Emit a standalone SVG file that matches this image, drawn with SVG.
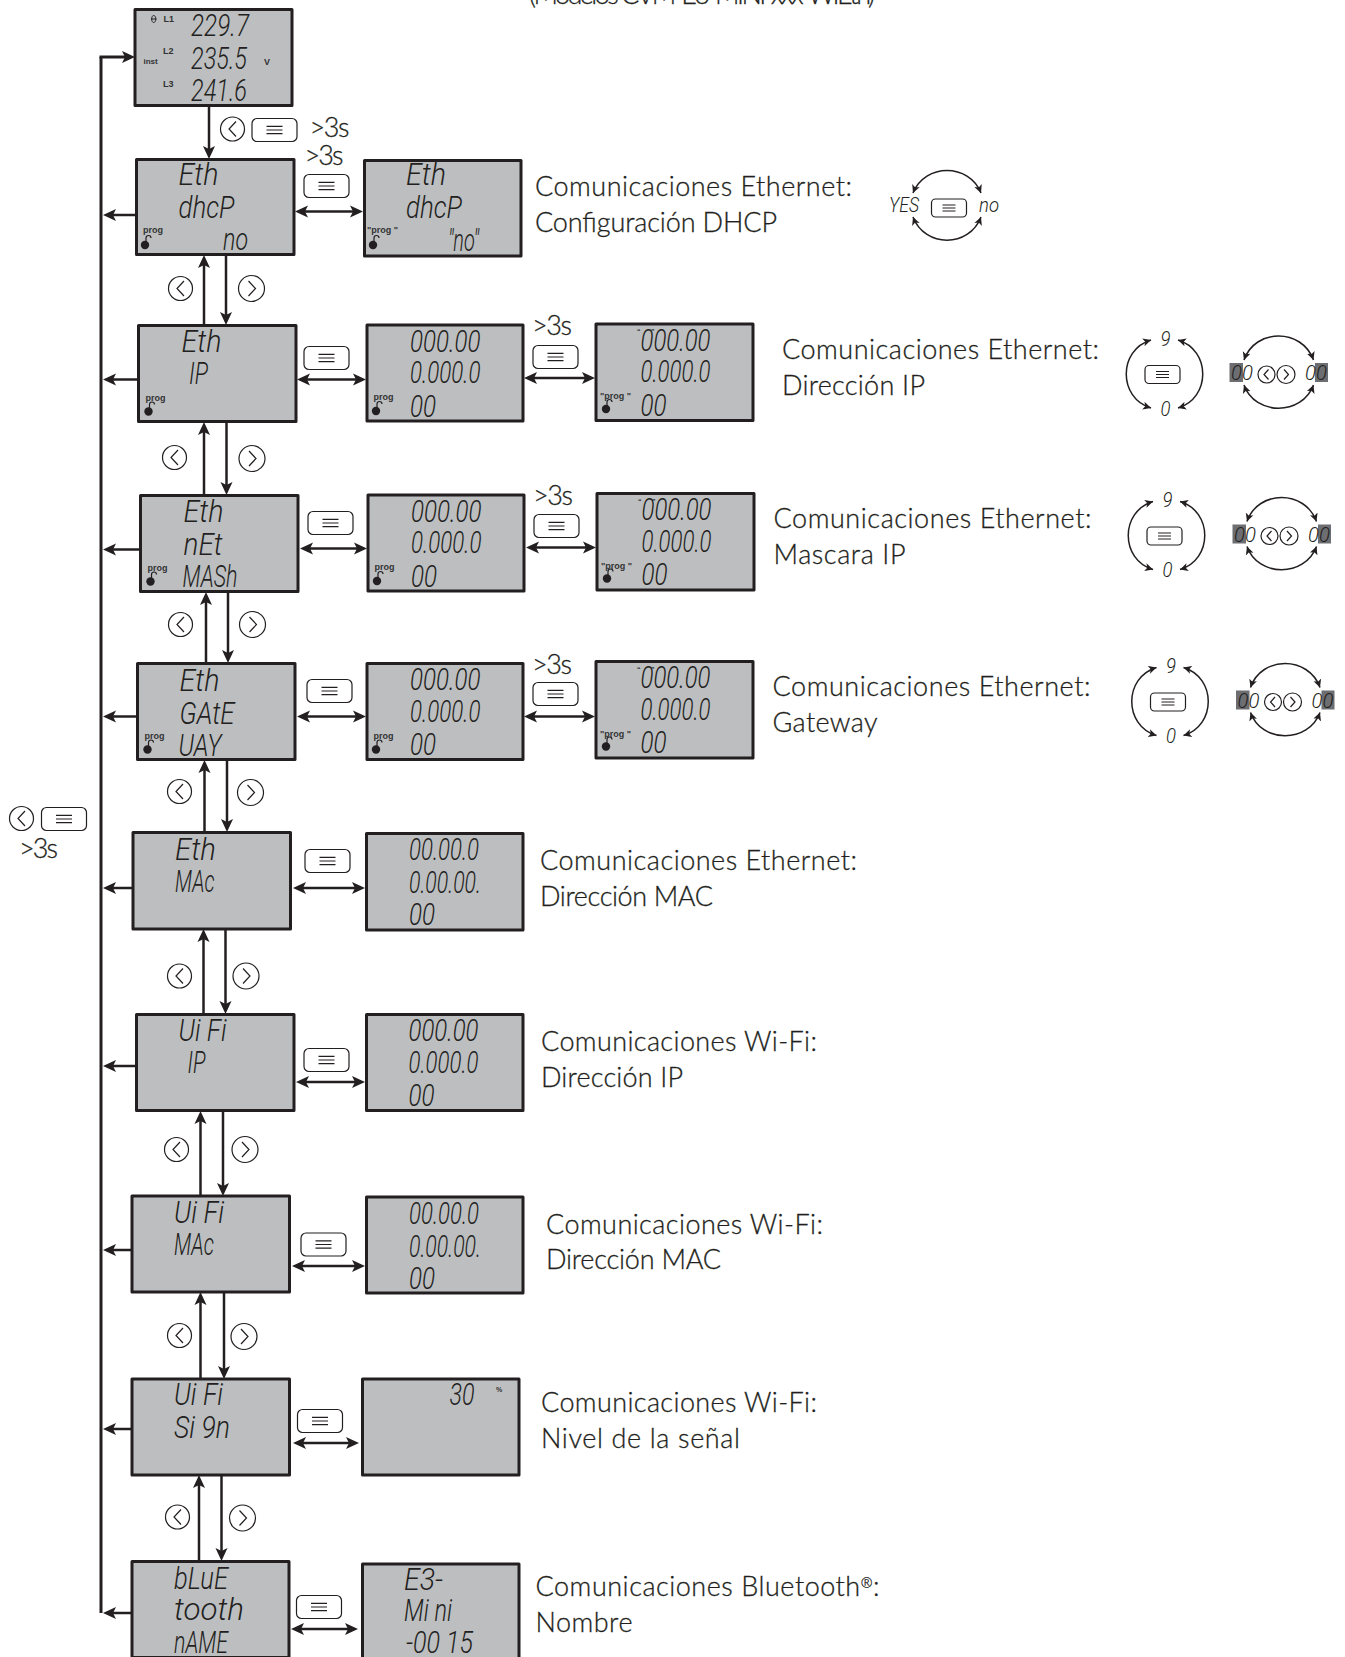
<svg xmlns="http://www.w3.org/2000/svg" width="1345" height="1657" viewBox="0 0 1345 1657">
<style>
text{fill:#231f20}
.lcd{fill:#bcbec0;stroke:#231f20;stroke-width:3;stroke-linejoin:round}
.s{font-family:"Roboto","Liberation Sans",sans-serif;font-weight:300;font-style:italic;font-size:31px}
.s2{font-family:"Roboto","Liberation Sans",sans-serif;font-weight:300;font-style:italic;font-size:21px}
.b{font-family:"Liberation Sans",Arial,sans-serif;font-weight:700;font-size:9px;fill:#333}
.d{font-family:"Lato","Noto Sans",sans-serif;font-weight:300;font-size:27px;stroke:#231f20;stroke-width:.3}
.m{fill:none;stroke:#231f20;stroke-width:3}
.c{fill:none;stroke:#231f20;stroke-width:2.5}
.da{marker-start:url(#ah);marker-end:url(#ah)}
.ea{marker-end:url(#ah)}
.w{fill:none;stroke:#231f20;stroke-width:1.5;marker-start:url(#as);marker-end:url(#as)}
.btn{fill:#fff;stroke:#231f20;stroke-width:1.2}
.ln{fill:none;stroke:#231f20;stroke-width:1.2}
.hl{fill:#6d6e71}
</style>
<defs>
<marker id="ah" markerUnits="userSpaceOnUse" markerWidth="16" markerHeight="14" refX="6" refY="7" orient="auto-start-reverse"><path d="M0 1 L13 7 L0 13 L3 7 Z" fill="#231f20"/></marker>
<marker id="as" markerUnits="userSpaceOnUse" markerWidth="10" markerHeight="10" refX="8" refY="5" orient="auto-start-reverse"><path d="M0 1 L8 5 L0 9 L2 5 Z" fill="#231f20"/></marker>
<g id="menu"><rect class="btn" x="-22.5" y="-11.5" width="45" height="23" rx="5"/><path class="ln" d="M-8 -3.7H8M-8 0H8M-8 3.7H8"/></g>
<g id="menus"><rect class="btn" x="-17.5" y="-9" width="35" height="18" rx="4"/><path class="ln" d="M-6.5 -3H6.5M-6.5 0H6.5M-6.5 3H6.5" style="stroke-width:1"/></g>
<g id="bl"><circle class="btn" r="12"/><path class="ln" d="M3.5 -7.5L-3.5 0L3.5 7.5"/></g>
<g id="br"><circle class="btn" r="13"/><path class="ln" d="M-3 -7.5L4 0L-3 7.5"/></g>
<g id="lock"><circle r="4.2" fill="#231f20"/><path d="M1 -3.5V-7Q1 -9.5 3.5 -9.5Q6 -9.5 6 -7" fill="none" stroke="#231f20" stroke-width="1.2"/></g>
</defs>

<g id="connectors">
<path class="m" d="M101 57V1613"/>
<path class="m ea" d="M99.500 57H128"/>
<path class="c ea" d="M209 105V152"/>
<path class="c ea" d="M136 215H110"/>
<path class="c ea" d="M138 379.5H110"/>
<path class="c ea" d="M140 549.5H110"/>
<path class="c ea" d="M137 716.5H110"/>
<path class="c ea" d="M133 888H110"/>
<path class="c ea" d="M136 1066H110"/>
<path class="c ea" d="M132 1250H110"/>
<path class="c ea" d="M132 1429H110"/>
<path class="c ea" d="M135 1613H110"/>
<path class="c ea" d="M204 325V262"/><path class="c ea" d="M226 255V318"/>
<path class="c ea" d="M204 495V429"/><path class="c ea" d="M226.5 421V488"/>
<path class="c ea" d="M206 663V599"/><path class="c ea" d="M228 592V656"/>
<path class="c ea" d="M204.5 832V767"/><path class="c ea" d="M227 760V825"/>
<path class="c ea" d="M203.5 1014V936"/><path class="c ea" d="M225.5 929V1007"/>
<path class="c ea" d="M200.5 1196V1118"/><path class="c ea" d="M223 1110V1189"/>
<path class="c ea" d="M200.5 1379V1299"/><path class="c ea" d="M224 1292V1372"/>
<path class="c ea" d="M199 1561V1482"/><path class="c ea" d="M221.5 1475V1554"/>
<path class="c da" d="M302 211.5H356"/>
<path class="c da" d="M304 379.5H359"/><path class="c da" d="M531 378H588"/>
<path class="c da" d="M307 548.5H360"/><path class="c da" d="M533 547.5H589"/>
<path class="c da" d="M304 716.5H359"/><path class="c da" d="M531 716.5H588"/>
<path class="c da" d="M300 888H358"/>
<path class="c da" d="M303 1082H358"/>
<path class="c da" d="M299 1266H358"/>
<path class="c da" d="M300 1443H352"/>
<path class="c da" d="M298 1629H351"/>
</g>

<g id="header"><text class="d" x="529" y="4" textLength="346">(Modelos CVM-E3-MINI-xxx-WIEth)</text></g>

<g id="n-inst">
<rect class="lcd" x="135" y="9.5" width="157" height="96"/>
<text class="s" x="191" y="36" textLength="58" lengthAdjust="spacingAndGlyphs">229.7</text>
<text class="s" x="191" y="69" textLength="56" lengthAdjust="spacingAndGlyphs">235.5</text>
<text class="s" x="191" y="101" textLength="56" lengthAdjust="spacingAndGlyphs">241.6</text>
<text class="b" x="163.5" y="21.5">L1</text><text class="b" x="163" y="54">L2</text><text class="b" x="163" y="87">L3</text>
<text class="b" x="143.5" y="64" style="font-size:8px">inst</text><text class="b" x="264" y="65">V</text>
<path d="M151 19H156.5M153.700 15.500C151 15.500 151 22.500 153.700 22.500C156.500 22.500 156.500 15.500 153.700 15.500Z" fill="none" stroke="#231f20" stroke-width="1"/>
</g>
<g id="n-top-btns"><use href="#bl" x="232.5" y="129"/><use href="#menu" x="274.5" y="130"/><text class="d" x="309.500" y="137" textLength="40">&gt;3s</text></g>

<g id="n-dhcp">
<rect class="lcd" x="136.5" y="159.5" width="157.5" height="95"/>
<text class="s" x="178.5" y="185" textLength="40" lengthAdjust="spacingAndGlyphs">Eth</text>
<text class="s" x="178.5" y="218" textLength="56" lengthAdjust="spacingAndGlyphs">dhcP</text>
<text class="s" x="223" y="250" textLength="25" lengthAdjust="spacingAndGlyphs">no</text>
<text class="b" x="143" y="233">prog</text><use href="#lock" x="145" y="245"/>
</g>
<g id="n-dhcp-2">
<rect class="lcd" x="364.5" y="160.5" width="156.5" height="95.5"/>
<text class="s" x="406" y="185" textLength="40" lengthAdjust="spacingAndGlyphs">Eth</text>
<text class="s" x="406" y="218" textLength="56" lengthAdjust="spacingAndGlyphs">dhcP</text>
<text class="s" x="448" y="251" textLength="31" lengthAdjust="spacingAndGlyphs">"no"</text>
<text class="b" x="367" y="233">"prog "</text><use href="#lock" x="373" y="245"/>
</g>
<g id="b-dhcp"><text class="d" x="304.500" y="165" textLength="39">&gt;3s</text><use href="#menu" x="326.5" y="186"/></g>
<g id="t-dhcp"><text class="d" x="535" y="196" textLength="317">Comunicaciones Ethernet:</text><text class="d" x="535" y="232" textLength="242">Configuración DHCP</text></g>
<g id="w-dhcp">
<text class="s2" x="889" y="212" textLength="30" lengthAdjust="spacingAndGlyphs">YES</text>
<text class="s2" x="979" y="212" textLength="20" lengthAdjust="spacingAndGlyphs">no</text>
<use href="#menus" x="949" y="208"/>
<path class="w" d="M913 193C925 163 969 163 981 193"/>
<path class="w" d="M913 217C925 248 969 248 981 217"/>
</g>

<g id="n-ip" transform="translate(138.5 325.5)">
<rect class="lcd" width="157.5" height="96"/>
<text class="s" x="43" y="26" textLength="40" lengthAdjust="spacingAndGlyphs">Eth</text>
<text class="s" x="50.5" y="58" textLength="19" lengthAdjust="spacingAndGlyphs">IP</text>
<text class="b" x="7" y="75">prog</text><use href="#lock" x="10" y="86"/>
</g>
<g id="n-ip-2" transform="translate(367 325)">
<rect class="lcd" width="156" height="96"/>
<text class="s" x="43" y="26.5" textLength="70.5" lengthAdjust="spacingAndGlyphs">000.00</text>
<text class="s" x="43" y="58" textLength="70.5" lengthAdjust="spacingAndGlyphs">0.000.0</text>
<text class="s" x="43" y="91.5" textLength="26" lengthAdjust="spacingAndGlyphs">00</text>
<text class="b" x="6.5" y="75">prog</text><use href="#lock" x="9" y="86"/>
</g>
<g id="n-ip-3" transform="translate(596 324)">
<rect class="lcd" width="157" height="96.5"/>
<text class="b" x="41" y="10" style="font-size:7px">“</text><text class="b" x="55" y="10" style="font-size:7px">”</text>
<text class="s" x="44.5" y="26.5" textLength="70" lengthAdjust="spacingAndGlyphs">000.00</text>
<text class="s" x="44.5" y="58" textLength="70" lengthAdjust="spacingAndGlyphs">0.000.0</text>
<text class="s" x="44.5" y="91.5" textLength="26" lengthAdjust="spacingAndGlyphs">00</text>
<text class="b" x="4" y="75">"prog "</text><use href="#lock" x="10" y="85"/>
</g>
<g id="b-ip"><use href="#menu" x="326.5" y="358"/><use href="#menu" x="555.5" y="357"/><text class="d" x="532" y="335" textLength="40">&gt;3s</text></g>
<g id="t-ip"><text class="d" x="782" y="359" textLength="317">Comunicaciones Ethernet:</text><text class="d" x="782" y="395" textLength="143">Dirección IP</text></g>
<g id="w-ip">
<text class="s2" x="1160.5" y="345.5" textLength="10" lengthAdjust="spacingAndGlyphs">9</text>
<text class="s2" x="1160.5" y="415.5" textLength="10" lengthAdjust="spacingAndGlyphs">0</text>
<use href="#menus" x="1162.5" y="374.5"/>
<path class="w" d="M1151 340C1118 350 1118 398 1151 408"/>
<path class="w" d="M1178 340C1211 350 1211 398 1178 408"/>
<rect class="hl" x="1229.5" y="363" width="13.5" height="19"/>
<rect class="hl" x="1315" y="363" width="13" height="19"/>
<text class="s2" x="1231" y="380" textLength="22" lengthAdjust="spacingAndGlyphs">00</text>
<text class="s2" x="1305" y="380" textLength="22" lengthAdjust="spacingAndGlyphs">00</text>
<circle class="btn" cx="1266.5" cy="374.5" r="8.5"/><path class="ln" d="M1268.5 369.5L1264 374.5L1268.5 379.5"/>
<circle class="btn" cx="1286" cy="374.5" r="9"/><path class="ln" d="M1284 369.5L1288.5 374.5L1284 379.5"/>
<path class="w" d="M1244 360C1255 328 1302 328 1313.5 360"/>
<path class="w" d="M1244 385C1255 416 1302 416 1313.5 385"/>
</g>

<g id="n-net" transform="translate(140.5 495.5)">
<rect class="lcd" width="157.5" height="96"/>
<text class="s" x="43" y="26" textLength="40" lengthAdjust="spacingAndGlyphs">Eth</text>
<text class="s" x="43" y="59.5" textLength="39" lengthAdjust="spacingAndGlyphs">nEt</text>
<text class="s" x="42" y="91" textLength="55" lengthAdjust="spacingAndGlyphs">MASh</text>
<text class="b" x="7" y="75">prog</text><use href="#lock" x="10" y="86"/>
</g>
<g id="n-net-2" transform="translate(368 495)">
<rect class="lcd" width="156" height="96"/>
<text class="s" x="43" y="26.5" textLength="70.5" lengthAdjust="spacingAndGlyphs">000.00</text>
<text class="s" x="43" y="58" textLength="70.5" lengthAdjust="spacingAndGlyphs">0.000.0</text>
<text class="s" x="43" y="91.5" textLength="26" lengthAdjust="spacingAndGlyphs">00</text>
<text class="b" x="6.5" y="75">prog</text><use href="#lock" x="9" y="86"/>
</g>
<g id="n-net-3" transform="translate(597 493.5)">
<rect class="lcd" width="157" height="96.5"/>
<text class="b" x="41" y="10" style="font-size:7px">“</text><text class="b" x="55" y="10" style="font-size:7px">”</text>
<text class="s" x="44.5" y="26.5" textLength="70" lengthAdjust="spacingAndGlyphs">000.00</text>
<text class="s" x="44.5" y="58" textLength="70" lengthAdjust="spacingAndGlyphs">0.000.0</text>
<text class="s" x="44.5" y="91.5" textLength="26" lengthAdjust="spacingAndGlyphs">00</text>
<text class="b" x="4" y="75">"prog "</text><use href="#lock" x="10" y="85"/>
</g>
<g id="b-net"><use href="#menu" x="330.5" y="523"/><use href="#menu" x="556.5" y="526"/><text class="d" x="533" y="505" textLength="40">&gt;3s</text></g>
<g id="t-net"><text class="d" x="773.5" y="528" textLength="318">Comunicaciones Ethernet:</text><text class="d" x="773.5" y="564" textLength="132">Mascara IP</text></g>
<g id="w-net" transform="translate(2 161.5)">
<text class="s2" x="1160.5" y="345.5" textLength="10" lengthAdjust="spacingAndGlyphs">9</text>
<text class="s2" x="1160.5" y="415.5" textLength="10" lengthAdjust="spacingAndGlyphs">0</text>
<use href="#menus" x="1162.5" y="374.5"/>
<path class="w" d="M1151 340C1118 350 1118 398 1151 408"/>
<path class="w" d="M1178 340C1211 350 1211 398 1178 408"/>
<rect class="hl" x="1230.5" y="363" width="13.5" height="19"/>
<rect class="hl" x="1316" y="363" width="13" height="19"/>
<text class="s2" x="1232" y="380" textLength="22" lengthAdjust="spacingAndGlyphs">00</text>
<text class="s2" x="1306" y="380" textLength="22" lengthAdjust="spacingAndGlyphs">00</text>
<circle class="btn" cx="1267.5" cy="374.5" r="8.5"/><path class="ln" d="M1269.5 369.5L1265 374.5L1269.5 379.5"/>
<circle class="btn" cx="1287" cy="374.5" r="9"/><path class="ln" d="M1285 369.5L1289.5 374.5L1285 379.5"/>
<path class="w" d="M1245 360C1256 328 1303 328 1314.5 360"/>
<path class="w" d="M1245 385C1256 416 1303 416 1314.5 385"/>
</g>

<g id="n-gate" transform="translate(137.5 663.5)">
<rect class="lcd" width="157.5" height="96"/>
<text class="s" x="42" y="27.5" textLength="40" lengthAdjust="spacingAndGlyphs">Eth</text>
<text class="s" x="42" y="60" textLength="55" lengthAdjust="spacingAndGlyphs">GAtE</text>
<text class="s" x="41" y="92" textLength="43" lengthAdjust="spacingAndGlyphs">UAY</text>
<text class="b" x="7" y="75">prog</text><use href="#lock" x="10" y="86"/>
</g>
<g id="n-gate-2" transform="translate(367 663.5)">
<rect class="lcd" width="156" height="96"/>
<text class="s" x="43" y="26.5" textLength="70.5" lengthAdjust="spacingAndGlyphs">000.00</text>
<text class="s" x="43" y="58" textLength="70.5" lengthAdjust="spacingAndGlyphs">0.000.0</text>
<text class="s" x="43" y="91.5" textLength="26" lengthAdjust="spacingAndGlyphs">00</text>
<text class="b" x="6.5" y="75">prog</text><use href="#lock" x="9" y="86"/>
</g>
<g id="n-gate-3" transform="translate(596 661.5)">
<rect class="lcd" width="157" height="96.5"/>
<text class="b" x="41" y="10" style="font-size:7px">“</text><text class="b" x="55" y="10" style="font-size:7px">”</text>
<text class="s" x="44.5" y="26.5" textLength="70" lengthAdjust="spacingAndGlyphs">000.00</text>
<text class="s" x="44.5" y="58" textLength="70" lengthAdjust="spacingAndGlyphs">0.000.0</text>
<text class="s" x="44.5" y="91.5" textLength="26" lengthAdjust="spacingAndGlyphs">00</text>
<text class="b" x="4" y="75">"prog "</text><use href="#lock" x="10" y="85"/>
</g>
<g id="b-gate"><use href="#menu" x="329.5" y="691"/><use href="#menu" x="555.5" y="694"/><text class="d" x="532" y="674" textLength="40">&gt;3s</text></g>
<g id="t-gate"><text class="d" x="772.5" y="696" textLength="318">Comunicaciones Ethernet:</text><text class="d" x="772.5" y="732" textLength="105">Gateway</text></g>
<g id="w-gate" transform="translate(5.5 327.5)">
<text class="s2" x="1160.5" y="345.5" textLength="10" lengthAdjust="spacingAndGlyphs">9</text>
<text class="s2" x="1160.5" y="415.5" textLength="10" lengthAdjust="spacingAndGlyphs">0</text>
<use href="#menus" x="1162.5" y="374.5"/>
<path class="w" d="M1151 340C1118 350 1118 398 1151 408"/>
<path class="w" d="M1178 340C1211 350 1211 398 1178 408"/>
<rect class="hl" x="1230.5" y="363" width="13.5" height="19"/>
<rect class="hl" x="1316" y="363" width="13" height="19"/>
<text class="s2" x="1232" y="380" textLength="22" lengthAdjust="spacingAndGlyphs">00</text>
<text class="s2" x="1306" y="380" textLength="22" lengthAdjust="spacingAndGlyphs">00</text>
<circle class="btn" cx="1267.5" cy="374.5" r="8.5"/><path class="ln" d="M1269.5 369.5L1265 374.5L1269.5 379.5"/>
<circle class="btn" cx="1287" cy="374.5" r="9"/><path class="ln" d="M1285 369.5L1289.5 374.5L1285 379.5"/>
<path class="w" d="M1245 360C1256 328 1303 328 1314.5 360"/>
<path class="w" d="M1245 385C1256 416 1303 416 1314.5 385"/>
</g>

<g id="n-mac" transform="translate(133 832.5)">
<rect class="lcd" width="157.5" height="96.5"/>
<text class="s" x="42" y="27" textLength="41" lengthAdjust="spacingAndGlyphs">Eth</text>
<text class="s" x="42" y="59.500" textLength="39.5" lengthAdjust="spacingAndGlyphs">MAc</text>
</g>
<g id="n-mac-2" transform="translate(366.5 833.5)">
<rect class="lcd" width="156.5" height="96.5"/>
<text class="s" x="42.5" y="26.5" textLength="70" lengthAdjust="spacingAndGlyphs">00.00.0</text>
<text class="s" x="42.5" y="59.500" textLength="72" lengthAdjust="spacingAndGlyphs">0.00.00.</text>
<text class="s" x="42.5" y="91.5" textLength="26" lengthAdjust="spacingAndGlyphs">00</text>
</g>
<g id="b-mac"><use href="#menu" x="327.5" y="861"/></g>
<g id="t-mac"><text class="d" x="540" y="869.500" textLength="317">Comunicaciones Ethernet:</text><text class="d" x="540" y="905.500" textLength="173">Dirección MAC</text></g>

<g id="n-wifi-ip" transform="translate(136.5 1014.5)">
<rect class="lcd" width="157.5" height="96"/>
<text class="s" x="42" y="26" textLength="48" lengthAdjust="spacingAndGlyphs">Ui Fi</text>
<text class="s" x="51" y="58.5" textLength="18" lengthAdjust="spacingAndGlyphs">IP</text>
</g>
<g id="n-wifi-ip-2" transform="translate(366.5 1014.5)">
<rect class="lcd" width="156.5" height="96"/>
<text class="s" x="42" y="26" textLength="70" lengthAdjust="spacingAndGlyphs">000.00</text>
<text class="s" x="42" y="58.5" textLength="70" lengthAdjust="spacingAndGlyphs">0.000.0</text>
<text class="s" x="42" y="91.5" textLength="26" lengthAdjust="spacingAndGlyphs">00</text>
</g>
<g id="b-wifi-ip"><use href="#menu" x="326.5" y="1060"/></g>
<g id="t-wifi-ip"><text class="d" x="541" y="1050.500" textLength="276">Comunicaciones Wi-Fi:</text><text class="d" x="541" y="1086.500" textLength="142">Dirección IP</text></g>

<g id="n-wifi-mac" transform="translate(132 1196)">
<rect class="lcd" width="157.5" height="96"/>
<text class="s" x="42" y="26.5" textLength="50" lengthAdjust="spacingAndGlyphs">Ui Fi</text>
<text class="s" x="42" y="59" textLength="40" lengthAdjust="spacingAndGlyphs">MAc</text>
</g>
<g id="n-wifi-mac-2" transform="translate(366.5 1197)">
<rect class="lcd" width="156.5" height="96"/>
<text class="s" x="42.5" y="27" textLength="70" lengthAdjust="spacingAndGlyphs">00.00.0</text>
<text class="s" x="42.5" y="60" textLength="72" lengthAdjust="spacingAndGlyphs">0.00.00.</text>
<text class="s" x="42.5" y="92" textLength="26" lengthAdjust="spacingAndGlyphs">00</text>
</g>
<g id="b-wifi-mac"><use href="#menu" x="323.5" y="1244.5"/></g>
<g id="t-wifi-mac"><text class="d" x="546" y="1234" textLength="277">Comunicaciones Wi-Fi:</text><text class="d" x="546" y="1268.500" textLength="175">Dirección MAC</text></g>

<g id="n-wifi-sign" transform="translate(132 1379)">
<rect class="lcd" width="157.5" height="96"/>
<text class="s" x="42" y="26" textLength="49" lengthAdjust="spacingAndGlyphs">Ui Fi</text>
<text class="s" x="42" y="59" textLength="56" lengthAdjust="spacingAndGlyphs">Si 9n</text>
</g>
<g id="n-wifi-sign-2" transform="translate(362.5 1379)">
<rect class="lcd" width="156.5" height="96"/>
<text class="s" x="87" y="26" textLength="25" lengthAdjust="spacingAndGlyphs">30</text>
<text class="b" x="133.5" y="12.5" style="font-size:7px">%</text>
</g>
<g id="b-wifi-sign"><use href="#menu" x="320" y="1421"/></g>
<g id="t-wifi-sign"><text class="d" x="541" y="1411.500" textLength="276">Comunicaciones Wi-Fi:</text><text class="d" x="541" y="1447.500" textLength="199">Nivel de la señal</text></g>

<g id="n-blue" transform="translate(132 1561.5)">
<rect class="lcd" width="157" height="96"/>
<text class="s" x="42" y="27" textLength="54" lengthAdjust="spacingAndGlyphs">bLuE</text>
<text class="s" x="42" y="58" textLength="70" lengthAdjust="spacingAndGlyphs">tooth</text>
<text class="s" x="42" y="91" textLength="54" lengthAdjust="spacingAndGlyphs">nAME</text>
</g>
<g id="n-blue-2" transform="translate(362.5 1564)">
<rect class="lcd" width="156.5" height="96"/>
<text class="s" x="41.5" y="25.5" textLength="39" lengthAdjust="spacingAndGlyphs">E3-</text>
<text class="s" x="41.5" y="57" textLength="48" lengthAdjust="spacingAndGlyphs">Mi ni</text>
<text class="s" x="43.5" y="89" textLength="67" lengthAdjust="spacingAndGlyphs">-00 15</text>
</g>
<g id="b-blue"><use href="#menu" x="319" y="1607"/></g>
<g id="t-blue"><text class="d" x="535.5" y="1595.500" textLength="344">Comunicaciones Bluetooth<tspan font-size="14" dy="-8">®</tspan><tspan dy="8">:</tspan></text><text class="d" x="535.5" y="1631.500" textLength="97">Nombre</text></g>

<g id="nav-buttons">
<use href="#bl" x="180.5" y="288.5"/><use href="#br" x="251.5" y="288.5"/>
<use href="#bl" x="174.5" y="457.5"/><use href="#br" x="252" y="458.5"/>
<use href="#bl" x="180.5" y="624.5"/><use href="#br" x="252.5" y="624.5"/>
<use href="#bl" x="179.5" y="791.5"/><use href="#br" x="250.5" y="792.5"/>
<use href="#bl" x="179.5" y="976"/><use href="#br" x="246" y="976"/>
<use href="#bl" x="176.5" y="1149.5"/><use href="#br" x="245" y="1149.5"/>
<use href="#bl" x="179.5" y="1335.5"/><use href="#br" x="244" y="1336.5"/>
<use href="#bl" x="177.5" y="1517"/><use href="#br" x="242.5" y="1518"/>
</g>
<g id="b-back"><use href="#bl" x="21.5" y="818.5"/><use href="#menu" x="64" y="819"/><text class="d" x="19" y="858" textLength="39">&gt;3s</text></g>
</svg>
